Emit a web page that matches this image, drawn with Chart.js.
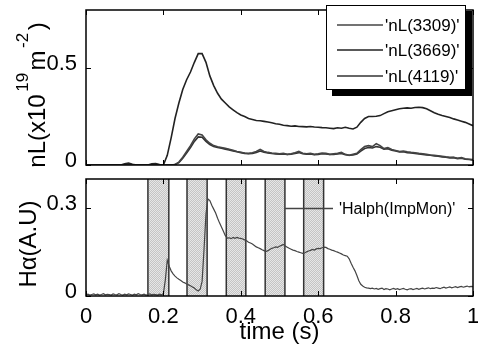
<!DOCTYPE html>
<html>
<head>
<meta charset="utf-8">
<script src="https://cdn.jsdelivr.net/npm/chart.js@4.4.0/dist/chart.umd.min.js"></script>
<style>
body { margin: 0; background: #fff; }
#wrap { position: relative; width: 478px; height: 349px; overflow: hidden; }
#top { position: absolute; left: 0; top: 0; }
#bottom { position: absolute; left: 0; top: 175px; }
</style>
</head>
<body>
<div id="wrap">
  <canvas id="top" width="478" height="175"></canvas>
  <canvas id="bottom" width="478" height="174"></canvas>
</div>
<script>
"use strict";

// time grids (s)
var nlTime = Array.from({length: 101}, function (_, i) { return +(i * 0.01).toFixed(2); });
var haTime = Array.from({length: 201}, function (_, i) { return +(i * 0.005).toFixed(3); });

var nlLabels = ["'nL(3309)'", "'nL(3669)'", "'nL(4119)'"];
var haLabel = "'Halph(ImpMon)'";

var nl3309 = [
  0,0,0,0,0,0,0,0,0,0,
  0,0,0,0,0,0,0,0,0,0,
  0,0,0,0.003,0.015,0.04,0.07,0.1,0.135,0.16,
  0.155,0.13,0.112,0.1,0.094,0.09,0.086,0.081,0.076,0.07,
  0.066,0.062,0.06,0.063,0.07,0.08,0.07,0.065,0.062,0.06,
  0.058,0.06,0.055,0.058,0.063,0.07,0.061,0.058,0.06,0.055,
  0.058,0.062,0.06,0.055,0.058,0.06,0.065,0.055,0.05,0.055,
  0.06,0.08,0.095,0.1,0.095,0.11,0.1,0.085,0.09,0.08,
  0.075,0.07,0.072,0.068,0.065,0.063,0.06,0.058,0.055,0.052,
  0.05,0.048,0.045,0.042,0.04,0.04,0.035,0.038,0.032,0.03,
  0.028
];
var nl3669 = [
  0,0,0,0,0,0,0,0,0,0,
  0.006,0.01,0.004,0,0,0,0,0.006,0.008,0.002,
  0,0.05,0.14,0.24,0.32,0.39,0.44,0.48,0.53,0.575,
  0.575,0.53,0.46,0.41,0.37,0.34,0.32,0.3,0.285,0.27,
  0.258,0.25,0.24,0.235,0.23,0.228,0.225,0.222,0.218,0.213,
  0.21,0.205,0.203,0.2,0.202,0.199,0.198,0.197,0.199,0.196,
  0.195,0.193,0.192,0.19,0.188,0.192,0.19,0.195,0.19,0.186,
  0.195,0.22,0.24,0.25,0.25,0.252,0.255,0.265,0.275,0.28,
  0.285,0.29,0.293,0.295,0.293,0.297,0.298,0.296,0.29,0.28,
  0.27,0.262,0.255,0.25,0.245,0.238,0.232,0.226,0.22,0.212,
  0.203
];
var nl4119 = [
  0,0,0,0,0,0,0,0,0,0,
  0,0,0,0,0,0,0,0,0,0,
  0,0,0,0.002,0.012,0.035,0.062,0.09,0.122,0.145,
  0.143,0.122,0.106,0.095,0.09,0.086,0.082,0.078,0.072,0.068,
  0.064,0.06,0.058,0.06,0.065,0.072,0.066,0.062,0.059,0.057,
  0.056,0.057,0.054,0.056,0.06,0.064,0.058,0.056,0.057,0.053,
  0.055,0.058,0.057,0.054,0.055,0.057,0.06,0.053,0.05,0.052,
  0.057,0.072,0.085,0.09,0.088,0.095,0.092,0.082,0.084,0.076,
  0.072,0.068,0.068,0.064,0.062,0.06,0.057,0.055,0.052,0.05,
  0.047,0.045,0.042,0.04,0.037,0.038,0.033,0.035,0.03,0.028,
  0.025
];

var halpha = [
  0.004,0.006,0.003,0.005,0.007,0.004,0.006,0.003,0.005,0.008,
  0.004,0.006,0.005,0.003,0.007,0.005,0.004,0.008,0.005,0.003,
  0.006,0.004,0.007,0.005,0.003,0.006,0.004,0.008,0.005,0.004,
  0.006,0.003,0.005,0.007,0.004,0.006,0.005,0.003,0.006,0.004,
  0.008,0.055,0.122,0.102,0.086,0.076,0.068,0.062,0.057,0.053,
  0.048,0.045,0.041,0.038,0.035,0.031,0.027,0.021,0.017,0.023,
  0.05,0.16,0.28,0.332,0.326,0.31,0.297,0.284,0.266,0.25,
  0.236,0.221,0.206,0.198,0.199,0.196,0.2,0.197,0.2,0.198,
  0.197,0.195,0.192,0.189,0.184,0.181,0.178,0.173,0.168,0.165,
  0.162,0.158,0.155,0.152,0.155,0.159,0.163,0.165,0.168,0.166,
  0.17,0.173,0.176,0.171,0.167,0.163,0.16,0.157,0.155,0.152,
  0.15,0.148,0.146,0.147,0.151,0.154,0.156,0.159,0.157,0.161,
  0.163,0.162,0.165,0.167,0.166,0.162,0.16,0.157,0.155,0.152,
  0.15,0.147,0.144,0.14,0.138,0.136,0.127,0.112,0.098,0.086,
  0.07,0.052,0.04,0.034,0.03,0.028,0.027,0.025,0.027,0.024,
  0.026,0.023,0.025,0.027,0.022,0.025,0.024,0.021,0.024,0.026,
  0.023,0.025,0.022,0.024,0.026,0.023,0.021,0.024,0.025,0.022,
  0.024,0.026,0.023,0.025,0.027,0.024,0.026,0.028,0.025,0.027,
  0.026,0.029,0.027,0.025,0.028,0.03,0.027,0.029,0.031,0.028,
  0.03,0.032,0.029,0.031,0.033,0.03,0.032,0.034,0.031,0.033,
  0.032
];

// shaded gate windows (s)
var bandStart = [0.160, 0.261, 0.3625, 0.463, 0.5625];
var bandEnd   = [0.214, 0.313, 0.413, 0.514, 0.614];

var xTicks = [0, 0.2, 0.4, 0.6, 0.8, 1];
var nlTickLabels = [0, 0.5];
var haTickLabels = [0, 0.3];

var FONT = "'Liberation Sans', Arial, sans-serif";

function pts(xs, ys) {
  return xs.map(function (x, i) { return {x: x, y: ys[i]}; });
}

function near(v, list) {
  return list.some(function (t) { return Math.abs(t - v) < 1e-6; });
}

function fixAxis(w, h) {
  return function (s) {
    if (w) s.width = w;
    if (h) s.height = h;
    s.paddingTop = 0; s.paddingBottom = 0; s.paddingLeft = 0; s.paddingRight = 0;
  };
}

// box + inward ticks on all four sides
var framePlugin = {
  id: 'frame',
  afterDatasetsDraw: function (chart) {
    var ctx = chart.ctx, a = chart.chartArea;
    var xs = chart.scales.x, ys = chart.scales.y;
    ctx.save();
    ctx.strokeStyle = '#000';
    ctx.lineWidth = 1;
    ctx.beginPath();
    xTicks.forEach(function (v) {
      var px = Math.round(xs.getPixelForValue(v)) + 0.5;
      ctx.moveTo(px, a.top); ctx.lineTo(px, a.top + 5);
      ctx.moveTo(px, a.bottom); ctx.lineTo(px, a.bottom - 5);
    });
    ys.ticks.forEach(function (t) {
      var py = Math.round(ys.getPixelForValue(t.value)) + 0.5;
      ctx.moveTo(a.left, py); ctx.lineTo(a.left + 5, py);
      ctx.moveTo(a.right, py); ctx.lineTo(a.right - 5, py);
    });
    ctx.stroke();
    ctx.lineWidth = 1.5;
    ctx.strokeRect(a.left, a.top, a.right - a.left, a.bottom - a.top);
    ctx.restore();
  }
};

function rotatedLabel(parts, baseX, midY) {
  return {
    id: 'ylabel',
    afterDraw: function (chart) {
      var ctx = chart.ctx;
      ctx.save();
      ctx.fillStyle = '#000';
      ctx.textBaseline = 'alphabetic';
      var total = 0;
      parts.forEach(function (p) {
        ctx.font = (p.sup ? 17 : 24) + 'px ' + FONT;
        p.w = ctx.measureText(p.t).width + (p.sup ? 5 : 0);
        total += p.w;
      });
      ctx.translate(baseX, midY);
      ctx.rotate(-Math.PI / 2);
      var x = -total / 2;
      parts.forEach(function (p) {
        ctx.font = (p.sup ? 17 : 24) + 'px ' + FONT;
        ctx.fillText(p.t, x + (p.sup ? 2.5 : 0), p.sup ? -17 : 0);
        x += p.w;
      });
      ctx.restore();
    }
  };
}

var nlLegend = {
  id: 'nlLegend',
  afterDraw: function (chart) {
    var ctx = chart.ctx;
    ctx.save();
    ctx.fillStyle = '#000';
    ctx.fillRect(332, 11, 140, 85);
    ctx.fillStyle = '#fff';
    ctx.fillRect(326, 5, 140, 85);
    ctx.strokeStyle = '#000';
    ctx.lineWidth = 1;
    ctx.strokeRect(326.5, 5.5, 139, 84);
    ctx.font = '17px ' + FONT;
    ctx.textBaseline = 'middle';
    var rows = [25, 50, 76];
    chart.data.datasets.forEach(function (ds, i) {
      ctx.strokeStyle = ds.borderColor;
      ctx.lineWidth = 1.5;
      ctx.beginPath();
      ctx.moveTo(337, rows[i]); ctx.lineTo(383, rows[i]);
      ctx.stroke();
      ctx.fillStyle = '#000';
      ctx.fillText(ds.label, 385, rows[i] + 1);
    });
    ctx.restore();
  }
};

function bandPattern(ctx) {
  var c = document.createElement('canvas');
  c.width = 2; c.height = 2;
  var p = c.getContext('2d');
  p.fillStyle = '#e6e6e6'; p.fillRect(0, 0, 2, 2);
  p.fillStyle = '#c4c4c4'; p.fillRect(0, 0, 1, 1); p.fillRect(1, 1, 1, 1);
  return ctx.createPattern(c, 'repeat');
}

var bandsPlugin = {
  id: 'bands',
  beforeDatasetsDraw: function (chart) {
    var ctx = chart.ctx, a = chart.chartArea, xs = chart.scales.x;
    ctx.save();
    ctx.fillStyle = bandPattern(ctx);
    ctx.strokeStyle = '#333';
    ctx.lineWidth = 1.5;
    bandStart.forEach(function (s, i) {
      var x0 = xs.getPixelForValue(s), x1 = xs.getPixelForValue(bandEnd[i]);
      ctx.fillRect(x0, a.top, x1 - x0, a.bottom - a.top);
      ctx.beginPath();
      ctx.moveTo(x0, a.top); ctx.lineTo(x0, a.bottom);
      ctx.moveTo(x1, a.top); ctx.lineTo(x1, a.bottom);
      ctx.stroke();
    });
    ctx.restore();
  }
};

var haLegend = {
  id: 'haLegend',
  afterDraw: function (chart) {
    var ctx = chart.ctx, ys = chart.scales.y;
    var y = Math.round(ys.getPixelForValue(0.3)) + 0.5;
    ctx.save();
    ctx.strokeStyle = chart.data.datasets[0].borderColor;
    ctx.lineWidth = 1.5;
    ctx.beginPath();
    ctx.moveTo(285, y); ctx.lineTo(333, y);
    ctx.stroke();
    ctx.fillStyle = '#000';
    ctx.font = '16px ' + FONT;
    ctx.textBaseline = 'middle';
    ctx.fillText(chart.data.datasets[0].label, 339, y + 1);
    ctx.restore();
  }
};

Chart.defaults.font.family = FONT;
Chart.defaults.color = '#000';

var lineColors = ['#444', '#222', '#333'];
var nlSeries = [nl3309, nl3669, nl4119];

new Chart(document.getElementById('top'), {
  type: 'line',
  data: {
    datasets: nlSeries.map(function (s, i) {
      return { label: nlLabels[i], data: pts(nlTime, s), borderColor: lineColors[i], borderWidth: 1.6 };
    })
  },
  options: {
    responsive: false,
    animation: false,
    devicePixelRatio: 1,
    layout: { padding: { top: 10, right: 5, bottom: 10, left: 0 } },
    elements: { point: { radius: 0 }, line: { tension: 0 } },
    plugins: { legend: { display: false }, tooltip: { enabled: false } },
    scales: {
      x: { type: 'linear', min: 0, max: 1, display: false },
      y: {
        min: 0, max: 0.8,
        afterFit: fixAxis(86, 0),
        grid: { display: false, drawTicks: false },
        border: { display: false },
        ticks: {
          stepSize: 0.1, padding: 9, labelOffset: -4,
          font: { size: 22 },
          callback: function (v) { return near(v, nlTickLabels) ? String(+v.toFixed(1)) : null; }
        }
      }
    }
  },
  plugins: [framePlugin, nlLegend, rotatedLabel([
    {t: 'nL(x10'}, {t: '19', sup: true}, {t: 'm'}, {t: '-2', sup: true}, {t: ')'}
  ], 45, 95)]
});

new Chart(document.getElementById('bottom'), {
  type: 'line',
  data: {
    datasets: [{ label: haLabel, data: pts(haTime, halpha), borderColor: '#444', borderWidth: 1.2 }]
  },
  options: {
    responsive: false,
    animation: false,
    devicePixelRatio: 1,
    layout: { padding: { top: 4, right: 5, bottom: 0, left: 0 } },
    elements: { point: { radius: 0 }, line: { tension: 0 } },
    plugins: { legend: { display: false }, tooltip: { enabled: false } },
    scales: {
      x: {
        type: 'linear', min: 0, max: 1,
        afterFit: fixAxis(0, 53),
        grid: { display: false, drawTicks: false },
        border: { display: false },
        ticks: {
          stepSize: 0.2, padding: 8, autoSkip: false, maxRotation: 0,
          font: { size: 22 },
          callback: function (v) { return near(v, xTicks) ? String(+v.toFixed(1)) : null; }
        },
        title: { display: true, text: 'time (s)', font: { size: 24 }, padding: { top: 0, bottom: 2 } }
      },
      y: {
        min: 0, max: 0.4,
        afterFit: fixAxis(86, 0),
        grid: { display: false, drawTicks: false },
        border: { display: false },
        ticks: {
          stepSize: 0.1, padding: 9, labelOffset: -4,
          font: { size: 22 },
          callback: function (v) { return near(v, haTickLabels) ? String(+v.toFixed(1)) : null; }
        }
      }
    }
  },
  plugins: [bandsPlugin, framePlugin, haLegend, rotatedLabel([{t: 'H\u03b1(A.U)'}], 36, 69)]
});
</script>
</body>
</html>
